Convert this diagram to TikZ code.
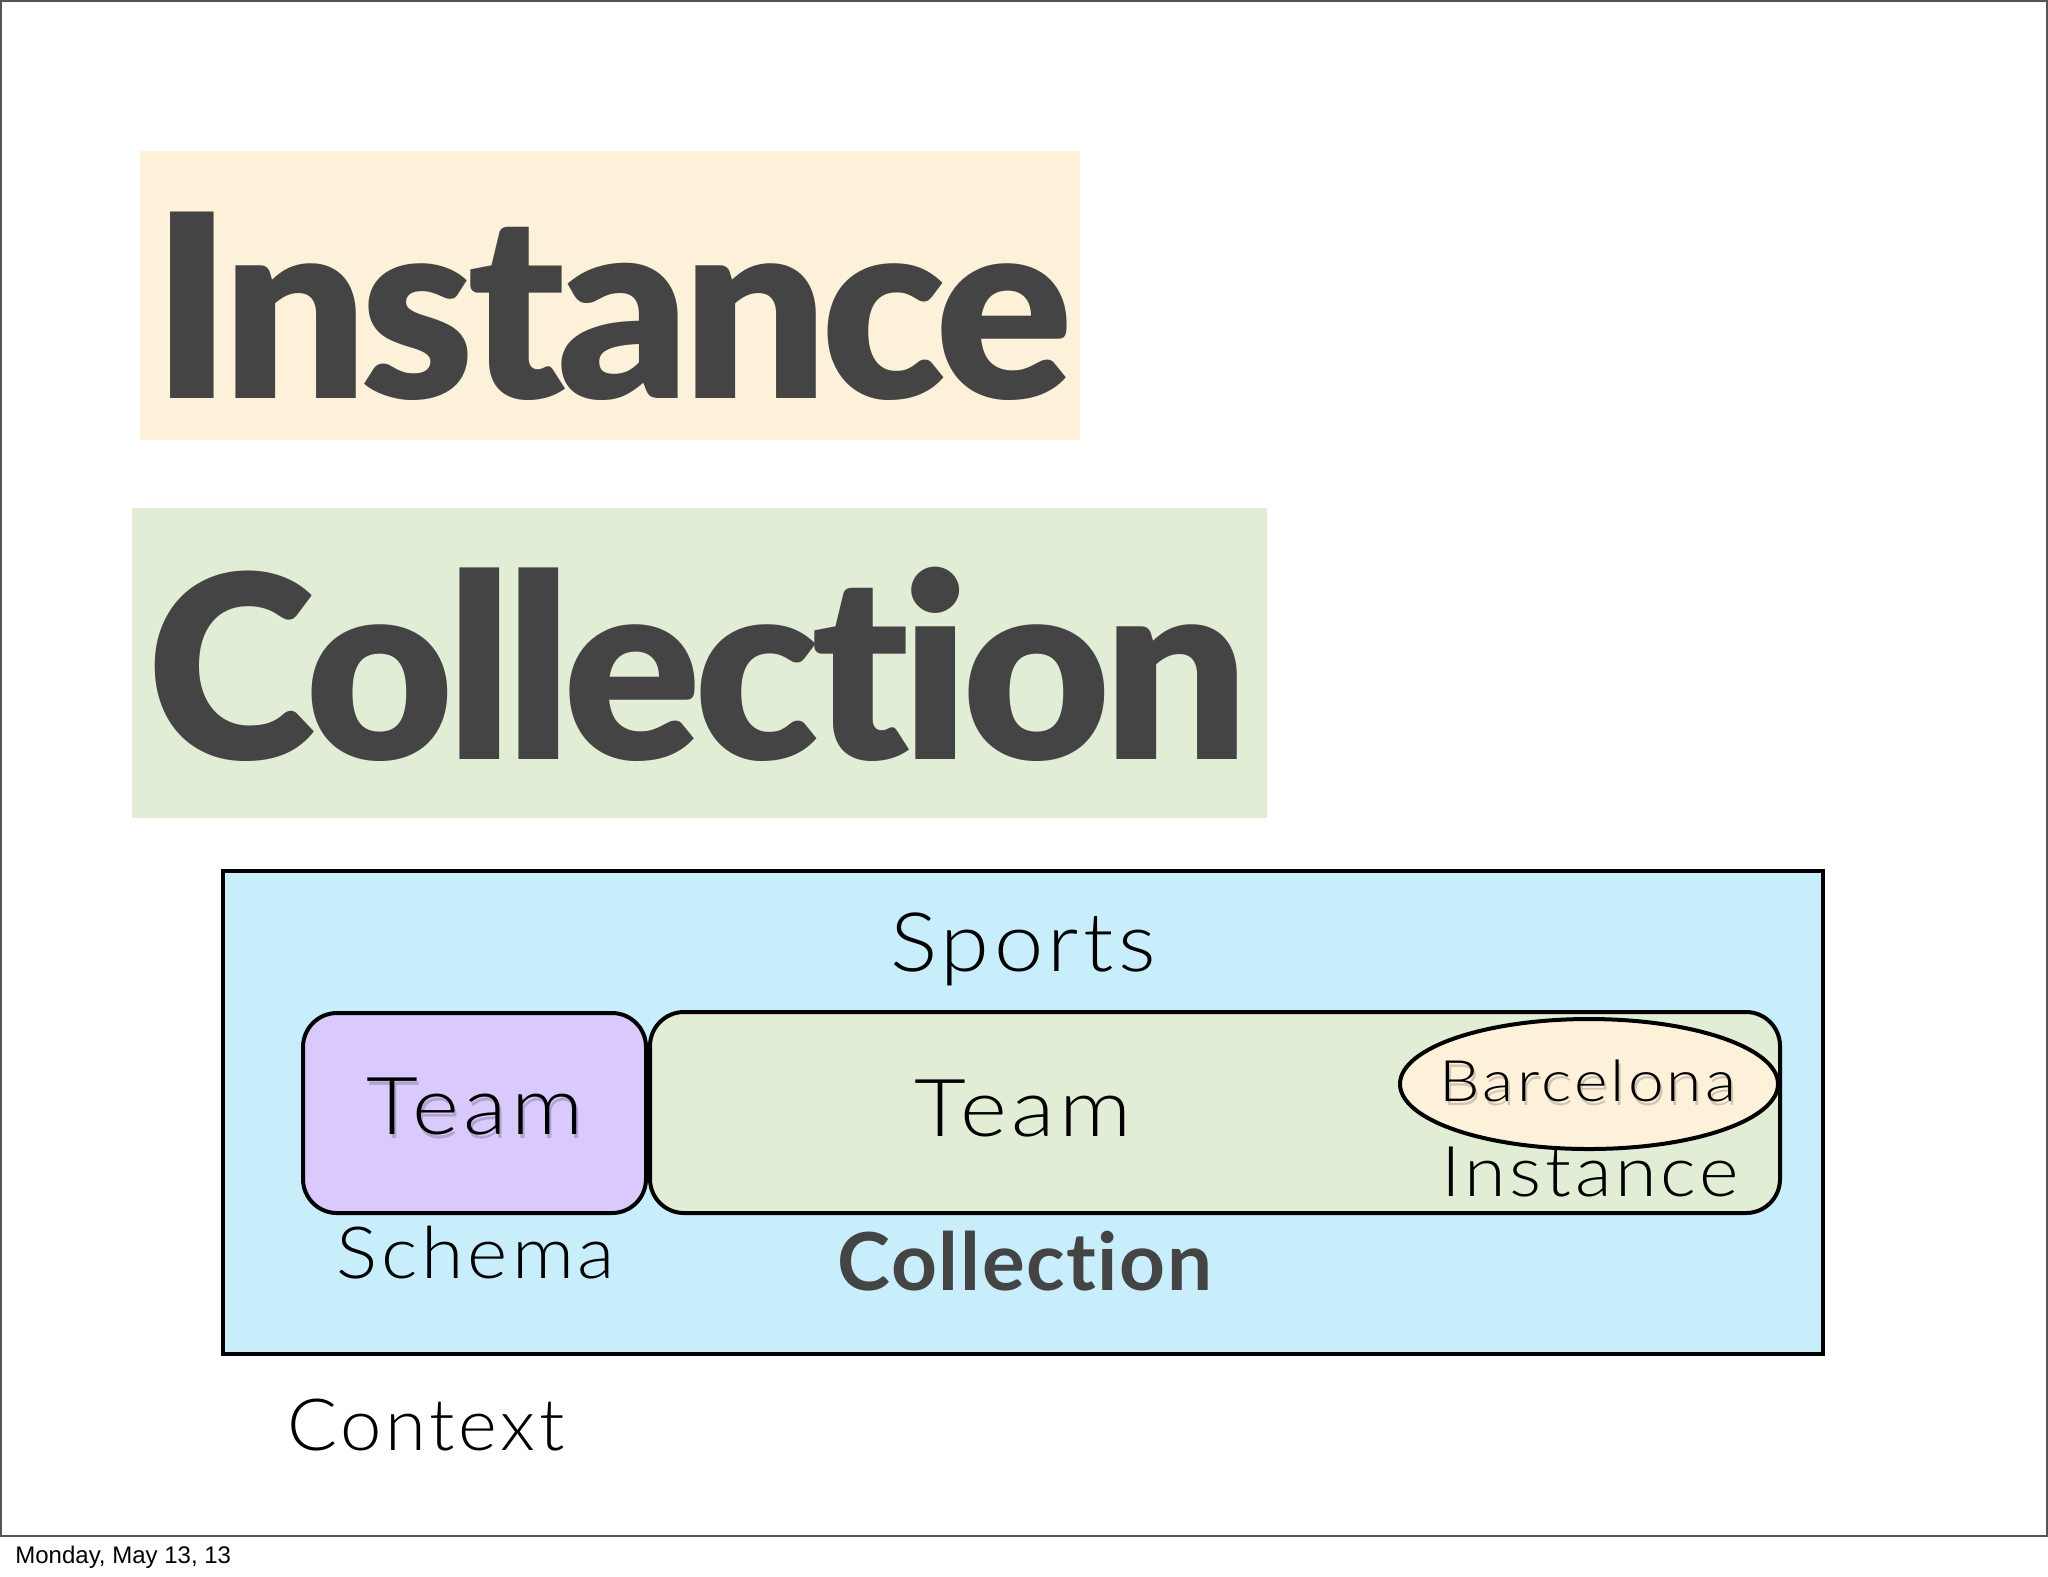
\documentclass[tikz,border=0pt]{standalone}
\usepackage{fontspec}
\usetikzlibrary{positioning,shapes.geometric}

\IfFontExistsTF{Lato Light}{\newfontfamily\lightfont[LetterSpace=5]{Lato Light}}{\newfontfamily\lightfont[LetterSpace=5]{Lato}}
\IfFontExistsTF{Lato Black}{\newfontfamily\blackfont[LetterSpace=-3,Ligatures=NoCommon]{Lato Black}}{\newfontfamily\blackfont[LetterSpace=-3,Ligatures=NoCommon]{Lato Bold}}
\newfontfamily\boldfont[LetterSpace=2,Ligatures=NoCommon]{Lato Bold}
\newfontfamily\datefont{Liberation Sans}
\newcommand{\stretchx}[2]{\scalebox{#1}[1]{#2}}

\definecolor{creamfill}{HTML}{FDF1DA}
\definecolor{greenfill}{HTML}{E2EDD6}
\definecolor{bluefill}{HTML}{C8EEFC}
\definecolor{purplefill}{HTML}{D9C9FC}
\definecolor{darktext}{HTML}{444444}
\definecolor{framegray}{HTML}{555555}

\begin{document}
\begin{tikzpicture}[x=0.5pt,y=-0.5pt,
    lbl/.style={font=\lightfont\fontsize{#1}{#1}\selectfont, inner sep=0pt, anchor=base},
    lbl/.default=36,
    bigword/.style={font=\blackfont\fontsize{128}{128}\selectfont, text=darktext, inner sep=0pt, anchor=base west},
    roundbox/.style={draw=black, line width=2pt, rounded corners=17pt},
    textshadow/.style={text=black, opacity=0.18}]
  % page and frame
  \useasboundingbox (0,0) rectangle (2048,1576);
  \draw[framegray, line width=1pt] (1,1) rectangle (2047,1536);
  \node[font=\datefont\fontsize{12}{12}\selectfont, inner sep=0pt, anchor=base west] (date) at (15,1563) {Monday, May 13, 13};

  % the two big words
  \fill[creamfill] (140,151) rectangle (1080,440);
  \node[bigword] (bigInstance) at (152,398) {Instance};
  \fill[greenfill] (132,508) rectangle (1267,818);
  \node[bigword] (bigCollection) at (147,759) {Collection};

  % context box
  \draw[fill=bluefill, line width=2pt] (223,871) rectangle (1823,1354);
  \node[lbl=41] (sports) at (1023,971) {\stretchx{1.08}{Sports}};

  % schema
  \draw[roundbox, fill=purplefill] (303,1013) rectangle (646,1213);
  \node[lbl=40, textshadow] at (477,1138) {\stretchx{1.12}{Team}};
  \node[lbl=40] (schemaTeam) at (475,1134) {\stretchx{1.12}{Team}};
  \node[lbl] (schema) at (476,1278) {\stretchx{1.07}{Schema}};

  % collection
  \draw[roundbox, fill=greenfill] (650,1012) rectangle (1780,1213);
  \node[lbl=40] (collTeam) at (1023,1136) {\stretchx{1.12}{Team}};
  \node[lbl, font=\boldfont\fontsize{40}{40}\selectfont, text=darktext] (collection) at (1025,1290) {Collection};

  % instance
  \node[ellipse, draw=black, line width=2pt, fill=creamfill, minimum width=189pt, minimum height=65pt, inner sep=0pt] (barcaEllipse) at (1589,1084) {};
  \node[lbl=28.6, textshadow] at (1590,1105) {\stretchx{1.12}{Barcelona}};
  \node[lbl=28.6] (barcelona) at (1588,1101) {\stretchx{1.12}{Barcelona}};
  \node[lbl=35] (instance) at (1590,1196) {\stretchx{1.08}{Instance}};

  \node[lbl=36] (context) at (426,1450) {\stretchx{1.03}{Context}};
\end{tikzpicture}
\end{document}
